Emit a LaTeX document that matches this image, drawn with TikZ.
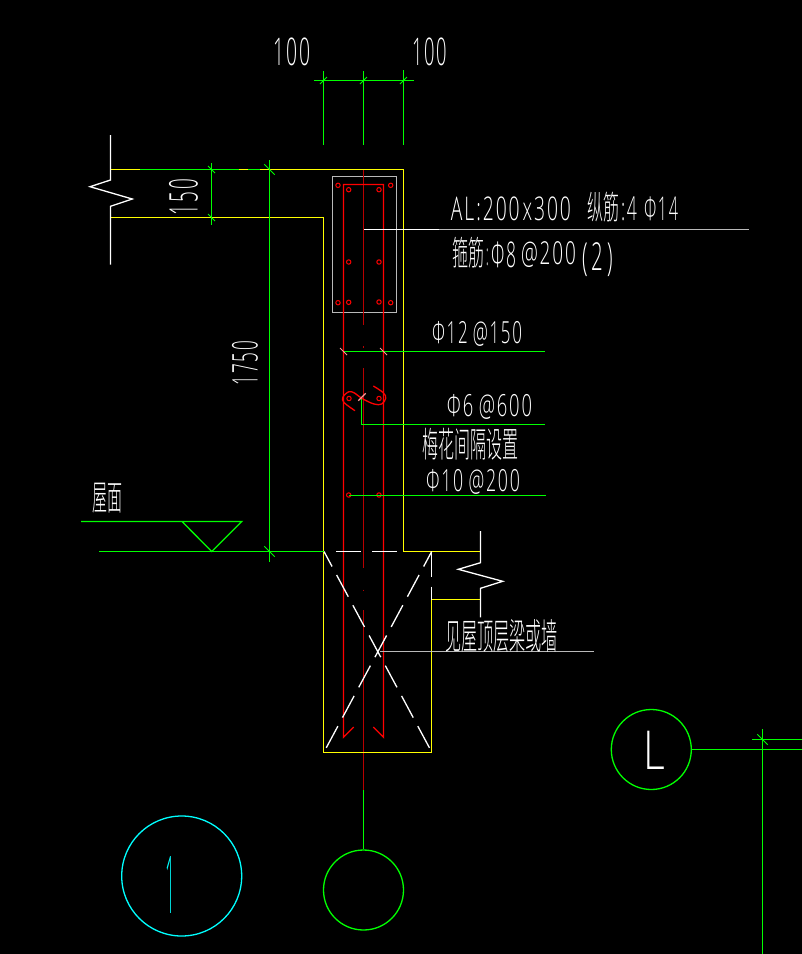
\documentclass[tikz,border=0pt]{standalone}
\usepackage{graphicx}
\usepackage{fontspec}
\setmainfont{Liberation Sans}
\newfontfamily\thinf{Open Sans}[UprightFont=* Light,LetterSpace=10]
\newfontfamily\cjkf{Noto Sans CJK SC Light}
\definecolor{ygl}{RGB}{255,255,0}
\definecolor{grn}{RGB}{0,255,0}
\definecolor{redl}{RGB}{255,0,0}
\definecolor{dred}{RGB}{185,0,0}
\definecolor{gry}{RGB}{185,185,185}
\definecolor{pnk}{RGB}{255,150,150}
\definecolor{cyn}{RGB}{0,255,255}
\tikzset{
 every path/.style={line width=1.3pt},
 yel/.style={draw=ygl},
 gl/.style={draw=grn},
 rl/.style={draw=redl},
 wl/.style={draw=white},
 rebar/.style={draw=redl,circle,minimum size=4.4pt,inner sep=0pt,line width=1pt},
 axiscirc/.style={draw=grn,circle,inner sep=0pt,minimum size=80pt},
 breakx/.style={draw=white,dash pattern=on 24.6pt off 9.7pt,dash phase=7.6pt},
 txt/.style={inner sep=0pt,outer sep=0pt,text=white}
}
\usetikzlibrary{calc}
% name, x0,y0,x1,y1, content
\newcommand\tx[6]{%
 \pgfmathsetmacro\mywd{#4-#2}\pgfmathsetmacro\myht{#5-#3}%
 \node[txt] (#1) at ({(#2+#4)/2},{(#3+#5)/2}) {\resizebox*{\mywd pt}{\myht pt}{#6}};}
\newcommand\txr[6]{%
 \pgfmathsetmacro\mywd{#5-#3}\pgfmathsetmacro\myht{#4-#2}%
 \node[txt,rotate=90] (#1) at ({(#2+#4)/2},{(#3+#5)/2}) {\resizebox*{\mywd pt}{\myht pt}{#6}};}
% colour, centre, half extents x and y
\newcommand\tickm[4][grn]{\draw[draw=#1,line width=1pt] ($#2+(-#3,-#4)$) -- ($#2+(#3,#4)$);}
\begin{document}
\begin{tikzpicture}[x=1pt,y=-1pt]
\fill[black] (0,0) rectangle (802,954);
\useasboundingbox (0,0) rectangle (802,954);

% top dimensions
\draw[gl] (314,80.5) -- (414,80.5);
\draw[gl] (323.5,71) -- (323.5,145);
\draw[gl] (363.5,71) -- (363.5,145);
\draw[gl] (403.5,70) -- (403.5,145);
\tickm{(323.5,80.5)}{3.5}{-3.5}\tickm{(363.5,80.5)}{3.5}{-3.5}\tickm{(403.5,80.5)}{3.5}{-3.5}

% grey section rectangle, stirrups and centre line
\draw[gry] (332.5,176.5) rectangle (396.5,312.5);
\draw[dred] (363.5,169) -- (363.5,325);
\draw[dred] (363.5,346) -- (363.5,347.5);
\draw[dred] (363.5,368) -- (363.5,568.3);
\draw[dred] (363.5,589.5) -- (363.5,591);
\draw[dred] (363.5,610) -- (363.5,790);
\coordinate (axtop) at (363.5,790);
\draw[rl] (353.7,727) -- (343.5,737.3) -- (343.5,184.5) -- (383.5,184.5) -- (383.5,737.3) -- (373.3,727);
\foreach \n/\p in {a/{338,185.3},b/{390.7,185.3},c/{348.7,189.7},d/{379,189.7},e/{348.7,262},f/{379,262},g/{338,302.7},h/{348.7,302.3},i/{379,302},j/{390.7,302.7},k/{349,398.5},l/{379,398.5},m/{348.7,495},n/{379,495}}
  \node[rebar] (r\n) at (\p) {};

% outline
\draw[yel] (110.5,217.5) -- (323.5,217.5) -- (323.5,752.5) -- (431.5,752.5) -- (431.5,599.5) -- (480.5,599.5);
\draw[yel] (110.5,169.5) -- (403.5,169.5) -- (403.5,551.5) -- (480.5,551.5);
\draw[gl] (140,169.5) -- (239,169.5);
\draw[gl] (248,169.5) -- (260,169.5);

% break lines
\draw[wl] (110.5,135) -- (110.5,180) -- (90,186.7) -- (132.3,199) -- (110.5,206.3) -- (110.5,264.7);
\draw[wl] (480.5,531) -- (480.5,562.7) -- (458.3,569.3) -- (502.7,581.3) -- (480.5,588.3) -- (480.5,617.3);
\draw[wl] (431.5,551.5) -- (431.5,576.7);
\draw[wl] (431.5,586.7) -- (431.5,599.5);
\draw[wl] (336,551.5) -- (361,551.5);
\draw[wl] (372,551.5) -- (397,551.5);
\draw[breakx] (324,551.5) -- (431.7,752);
\draw[breakx] (431.7,551.5) -- (324,752);

% left dimensions
\draw[gl] (211.5,163) -- (211.5,225);
\tickm{(211.5,169.5)}{3.5}{3.5}\tickm{(211.5,217.5)}{3.5}{3.5}
\draw[gl] (269.5,160) -- (269.5,562);
\tickm{(269.5,169.5)}{5.2}{5.2}\tickm{(269.5,551.5)}{5.2}{5.2}
\draw[gl] (99,551.5) -- (323.5,551.5);
\draw[gl] (81,521.5) -- (241.7,521.5) -- (211.7,551.5) -- (182,521.5);

% leaders
\draw[wl] (364,229.5) -- (439,229.5);
\draw[gry] (439,229.5) -- (749,229.5);
\draw[gl] (343.5,351.5) -- (545,351.5);
\tickm[pnk]{(343.5,351.5)}{3.5}{3.5}\tickm[pnk]{(383.5,351.5)}{3.5}{3.5}
\draw[gl] (361.5,397) -- (361.5,424.5) -- (545,424.5);
\draw[rl] plot[smooth,tension=.6] coordinates {(355,410.7) (344,402.5) (343,397) (349,391.7) (355,393.3) (361.7,398.3) (374,404) (381.7,404) (385.7,398.3) (383.3,392.7) (373.3,386)};
\draw[pnk] (358.3,400.7) -- (365.7,393.3);
\draw[gl] (348.7,495.5) -- (546,495.5);
\draw[gry] (380,651.5) -- (594,651.5);

% axis bubbles and right-hand lines
\node[axiscirc] (cbot) at (363.5,890) {};
\draw[gl] (axtop) -- (cbot.north);
\node[axiscirc] (cl) at (651.3,749.5) {};
\draw[gl] (cl.east) -- (802,749.5);
\draw[gl] (762.5,729) -- (762.5,954);
\draw[gl] (752,739.5) -- (802,739.5);
\tickm{(762.5,739.5)}{5.2}{5.2}
\node[draw=cyn,circle,inner sep=0pt,minimum size=120pt] (c1) at (181.7,876) {};

% texts
\tx{t100a}{274}{38}{311}{66}{\thinf 100}
\tx{t100b}{412}{38}{447}{66}{\thinf 100}
\txr{t150}{169}{179}{198}{215}{\thinf 150}
\txr{t1750}{232}{341}{258}{385}{\thinf 1750}
\tx{tal}{451}{197}{571}{221}{\thinf AL:200\hspace{.15em}x300}
\tx{tzong}{587}{192}{619}{222}{\cjkf 纵筋}
\tx{tcolb}{621}{197}{637}{221}{\thinf :4}
\tx{tphia}{644}{197}{678}{221}{\thinf Φ14}
\tx{tgu}{452}{237}{484}{268}{\cjkf 箍筋}
\tx{tcol}{486}{249}{488.5}{266}{\thinf :}
\tx{tphib}{491}{242}{516}{268}{\thinf Φ8}
\tx{tat}{521}{242}{576}{268}{\thinf @200}
\tx{tpar}{582}{243}{613}{277}{\thinf (\hspace{.2em}2\hspace{.2em})}
\tx{tphic}{432}{321}{522}{346}{\thinf Φ12\hspace{.3em}@150}
\tx{tphid}{447}{394}{532}{419}{\thinf Φ6\hspace{.3em}@600}
\tx{tmei}{422}{428}{518}{460}{\cjkf 梅花间隔设置}
\tx{tphie}{426}{469}{520}{494}{\thinf Φ10\hspace{.3em}@200}
\tx{twu}{92}{483}{122}{513}{\cjkf 屋面}
\tx{tjian}{445}{619}{558}{652}{\cjkf 见屋顶层梁或墙}
\tx{tl}{643.3}{731}{665}{769.3}{\thinf L}
\node[inner sep=0pt,text=cyn] (t1) at (170,884.5) {\resizebox*{10pt}{57pt}{\thinf 1}};
\end{tikzpicture}
\end{document}
